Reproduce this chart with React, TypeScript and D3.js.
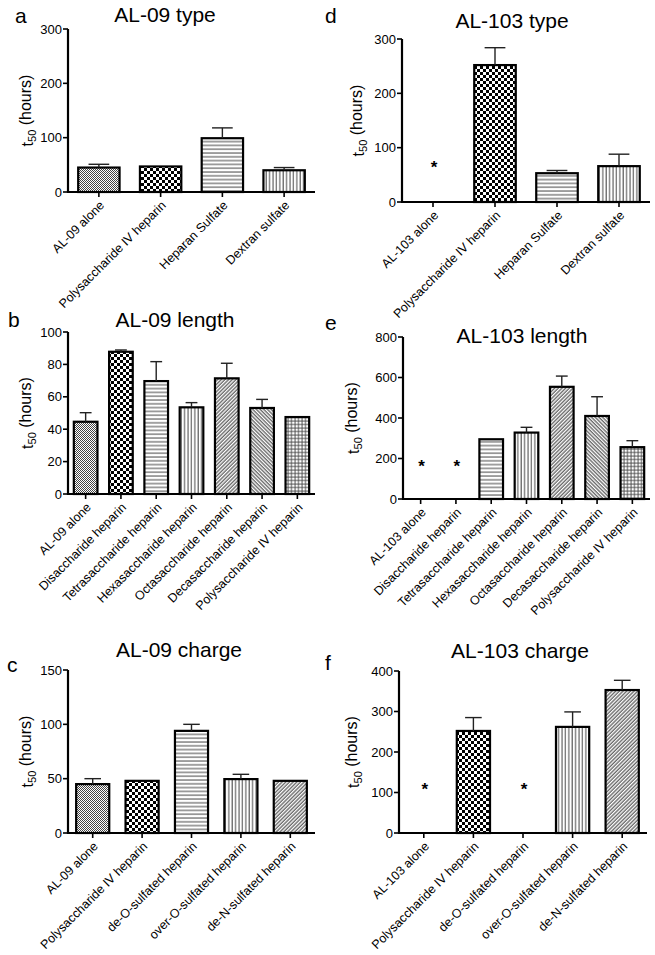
import React from "react";
import * as d3 from "d3";

// ---------- data ----------
const typeCatsA = ["AL-09 alone", "Polysaccharide IV heparin", "Heparan Sulfate", "Dextran sulfate"];
const typeValsA = [45, 47, 99, 40];
const typeErrsA = [6, 0, 19, 5];
const typeTicksA = [0, 100, 200, 300];

const typeCatsD = ["AL-103 alone", "Polysaccharide IV heparin", "Heparan Sulfate", "Dextran sulfate"];
const typeValsD = [0, 252, 53, 66];
const typeErrsD = [0, 32, 5, 22];
const typeStarsD = [72, null, null, null];
const typeTicksD = [0, 100, 200, 300];

const lengthCatsB = ["AL-09 alone", "Disaccharide heparin", "Tetrasaccharide heparin", "Hexasaccharide heparin", "Octasaccharide heparin", "Decasaccharide heparin", "Polysaccharide IV heparin"];
const lengthValsB = [44.6, 87.8, 69.7, 53.5, 71.4, 53.1, 47.5];
const lengthErrsB = [5.6, 1.1, 12, 2.9, 9.3, 5.3, 0];
const lengthTicksB = [0, 20, 40, 60, 80, 100];

const lengthCatsE = ["AL-103 alone", "Disaccharide heparin", "Tetrasaccharide heparin", "Hexasaccharide heparin", "Octasaccharide heparin", "Decasaccharide heparin", "Polysaccharide IV heparin"];
const lengthValsE = [0, 0, 295, 328, 554, 410, 256];
const lengthErrsE = [0, 0, 0, 26, 53, 95, 32];
const lengthStarsE = [185, 185, null, null, null, null, null];
const lengthTicksE = [0, 200, 400, 600, 800];

const chargeCatsC = ["AL-09 alone", "Polysaccharide IV heparin", "de-O-sulfated heparin", "over-O-sulfated heparin", "de-N-sulfated heparin"];
const chargeValsC = [45, 48, 94, 49.6, 48];
const chargeErrsC = [5, 0, 6, 4.4, 0];
const chargeTicksC = [0, 50, 100, 150];

const chargeCatsF = ["AL-103 alone", "Polysaccharide IV heparin", "de-O-sulfated heparin", "over-O-sulfated heparin", "de-N-sulfated heparin"];
const chargeValsF = [0, 252, 0, 262, 353];
const chargeErrsF = [0, 33, 0, 37, 24];
const chargeStarsF = [120, null, 120, null, null];
const chargeTicksF = [0, 100, 200, 300, 400];

// fill patterns per category (style)
const typeFills = ["fine", "checker", "hlines", "vlines"];
const lengthFills = ["fine", "checker", "hlines", "vlines", "diagR", "diagL", "grid"];
const chargeFills = ["fine", "checker", "hlines", "vlines", "diagR"];

const FONT = "'Liberation Sans', Arial, Helvetica, sans-serif";

type PanelProps = {
  cats: string[];
  vals: number[];
  errs: number[];
  stars?: (number | null)[];
  ticks: number[];
  fills: string[];
  x0: number;
  x1: number;
  yTop: number;
  yBot: number;
  title: string;
  titleX: number;
  titleY: number;
  letter: string;
  letterX: number;
  letterY: number;
  ylabelX: number;
};

function Panel(p: PanelProps) {
  const x = d3.scaleBand<string>().domain(p.cats).range([p.x0, p.x1]).paddingInner(0.33).paddingOuter(0.165);
  const max = p.ticks[p.ticks.length - 1];
  const y = d3.scaleLinear().domain([0, max]).range([p.yBot, p.yTop]);
  const bw = x.bandwidth();
  const yMid = (p.yTop + p.yBot) / 2;
  return (
    <g>
      <text x={p.letterX} y={p.letterY} fontSize={21} fontFamily={FONT}>{p.letter}</text>
      <text x={p.titleX} y={p.titleY} fontSize={21} fontFamily={FONT} textAnchor="middle">{p.title}</text>
      {p.cats.map((c, i) =>
        p.vals[i] > 0 ? (
          <rect key={"b" + i} x={x(c)!} y={y(p.vals[i])} width={bw} height={p.yBot - y(p.vals[i])}
            fill={`url(#${p.fills[i]})`} stroke="#000" strokeWidth={2.2} />
        ) : null
      )}
      {p.cats.map((c, i) =>
        p.errs[i] > 0 ? (
          <g key={"e" + i} stroke="#222" strokeWidth={1.4}>
            <line x1={x(c)! + bw / 2} x2={x(c)! + bw / 2} y1={y(p.vals[i])} y2={y(p.vals[i] + p.errs[i])} />
            <line x1={x(c)! + bw / 4} x2={x(c)! + (3 * bw) / 4} y1={y(p.vals[i] + p.errs[i])} y2={y(p.vals[i] + p.errs[i])} />
          </g>
        ) : null
      )}
      {p.stars && p.cats.map((c, i) =>
        p.stars![i] != null ? (
          <text key={"s" + i} x={x(c)! + bw / 2 + 1} y={y(p.stars![i] as number)} fontSize={17} fontWeight="bold"
            fontFamily={FONT} textAnchor="middle" dy="0.6em">*</text>
        ) : null
      )}
      <line x1={p.x0} x2={p.x0} y1={p.yTop} y2={p.yBot + 1} stroke="#000" strokeWidth={2.2} />
      <line x1={p.x0 - 1} x2={p.x1} y1={p.yBot} y2={p.yBot} stroke="#000" strokeWidth={2.2} />
      {p.ticks.map((t) => (
        <g key={"yt" + t}>
          <line x1={p.x0 - 5} x2={p.x0} y1={y(t)} y2={y(t)} stroke="#000" strokeWidth={1.6} />
          <text x={p.x0 - 6} y={y(t)} dy="0.35em" fontSize={13} fontFamily={FONT} textAnchor="end">{t}</text>
        </g>
      ))}
      {p.cats.map((c, i) => {
        const cx = x(c)! + bw / 2;
        return (
          <g key={"xt" + i}>
            <line x1={cx} x2={cx} y1={p.yBot} y2={p.yBot + 5} stroke="#000" strokeWidth={1.6} />
            <text transform={`translate(${cx + 3},${p.yBot + 11}) rotate(-45)`} dy="0.35em"
              fontSize={12.5} fontFamily={FONT} textAnchor="end">{c}</text>
          </g>
        );
      })}
      <text transform={`translate(${p.ylabelX},${yMid}) rotate(-90)`} fontSize={16} fontFamily={FONT}
        textAnchor="middle" dy="0.35em">
        t<tspan fontSize={11} dy="0.3em">50</tspan><tspan dy="-0.3em"> (hours)</tspan>
      </text>
    </g>
  );
}

export default function App() {
  return (
    <svg width={655} height={955} style={{ position: "absolute", left: 0, top: 0, background: "#fff" }}>
      <defs>
        <pattern id="fine" width={2} height={2} patternUnits="userSpaceOnUse">
          <rect width={2} height={2} fill="#fff" />
          <rect width={1} height={1} fill="#444" />
          <rect x={1} y={1} width={1} height={1} fill="#444" />
        </pattern>
        <pattern id="checker" width={6} height={6} patternUnits="userSpaceOnUse">
          <rect width={6} height={6} fill="#fff" />
          <rect width={3} height={3} fill="#000" />
          <rect x={3} y={3} width={3} height={3} fill="#000" />
        </pattern>
        <pattern id="hlines" width={4} height={3.8} patternUnits="userSpaceOnUse">
          <rect width={4} height={3.8} fill="#fff" />
          <line x1={0} x2={4} y1={1} y2={1} stroke="#444" strokeWidth={1} />
        </pattern>
        <pattern id="vlines" width={3.4} height={4} patternUnits="userSpaceOnUse">
          <rect width={3.4} height={4} fill="#fff" />
          <line x1={1} x2={1} y1={0} y2={4} stroke="#444" strokeWidth={1} />
        </pattern>
        <pattern id="diagR" width={2.6} height={4} patternUnits="userSpaceOnUse" patternTransform="rotate(45)">
          <rect width={2.6} height={4} fill="#fff" />
          <line x1={1} x2={1} y1={0} y2={4} stroke="#333" strokeWidth={1} />
        </pattern>
        <pattern id="diagL" width={2.6} height={4} patternUnits="userSpaceOnUse" patternTransform="rotate(-45)">
          <rect width={2.6} height={4} fill="#fff" />
          <line x1={1} x2={1} y1={0} y2={4} stroke="#333" strokeWidth={1} />
        </pattern>
        <pattern id="grid" width={3.5} height={3.5} patternUnits="userSpaceOnUse">
          <rect width={3.5} height={3.5} fill="#fff" />
          <line x1={0} x2={3.5} y1={1} y2={1} stroke="#444" strokeWidth={0.9} />
          <line x1={1} x2={1} y1={0} y2={3.5} stroke="#444" strokeWidth={0.9} />
        </pattern>
      </defs>
      <Panel cats={typeCatsA} vals={typeValsA} errs={typeErrsA} ticks={typeTicksA} fills={typeFills}
        x0={68} x1={315} yTop={29} yBot={192} title="AL-09 type" titleX={165} titleY={22}
        letter="a" letterX={15} letterY={23} ylabelX={27} />
      <Panel cats={typeCatsD} vals={typeValsD} errs={typeErrsD} stars={typeStarsD} ticks={typeTicksD} fills={typeFills}
        x0={402} x1={650} yTop={39} yBot={202} title="AL-103 type" titleX={512} titleY={28}
        letter="d" letterX={325} letterY={23} ylabelX={358} />
      <Panel cats={lengthCatsB} vals={lengthValsB} errs={lengthErrsB} ticks={lengthTicksB} fills={lengthFills}
        x0={68} x1={315} yTop={332} yBot={494} title="AL-09 length" titleX={175} titleY={327}
        letter="b" letterX={8} letterY={327} ylabelX={27} />
      <Panel cats={lengthCatsE} vals={lengthValsE} errs={lengthErrsE} stars={lengthStarsE} ticks={lengthTicksE} fills={lengthFills}
        x0={403} x1={650} yTop={337} yBot={499} title="AL-103 length" titleX={522} titleY={343}
        letter="e" letterX={325} letterY={330} ylabelX={353} />
      <Panel cats={chargeCatsC} vals={chargeValsC} errs={chargeErrsC} ticks={chargeTicksC} fills={chargeFills}
        x0={68} x1={315} yTop={670} yBot={833} title="AL-09 charge" titleX={179} titleY={657}
        letter="c" letterX={7} letterY={672} ylabelX={27} />
      <Panel cats={chargeCatsF} vals={chargeValsF} errs={chargeErrsF} stars={chargeStarsF} ticks={chargeTicksF} fills={chargeFills}
        x0={399} x1={647} yTop={671} yBot={833} title="AL-103 charge" titleX={520} titleY={658}
        letter="f" letterX={325} letterY={670} ylabelX={353} />
    </svg>
  );
}
